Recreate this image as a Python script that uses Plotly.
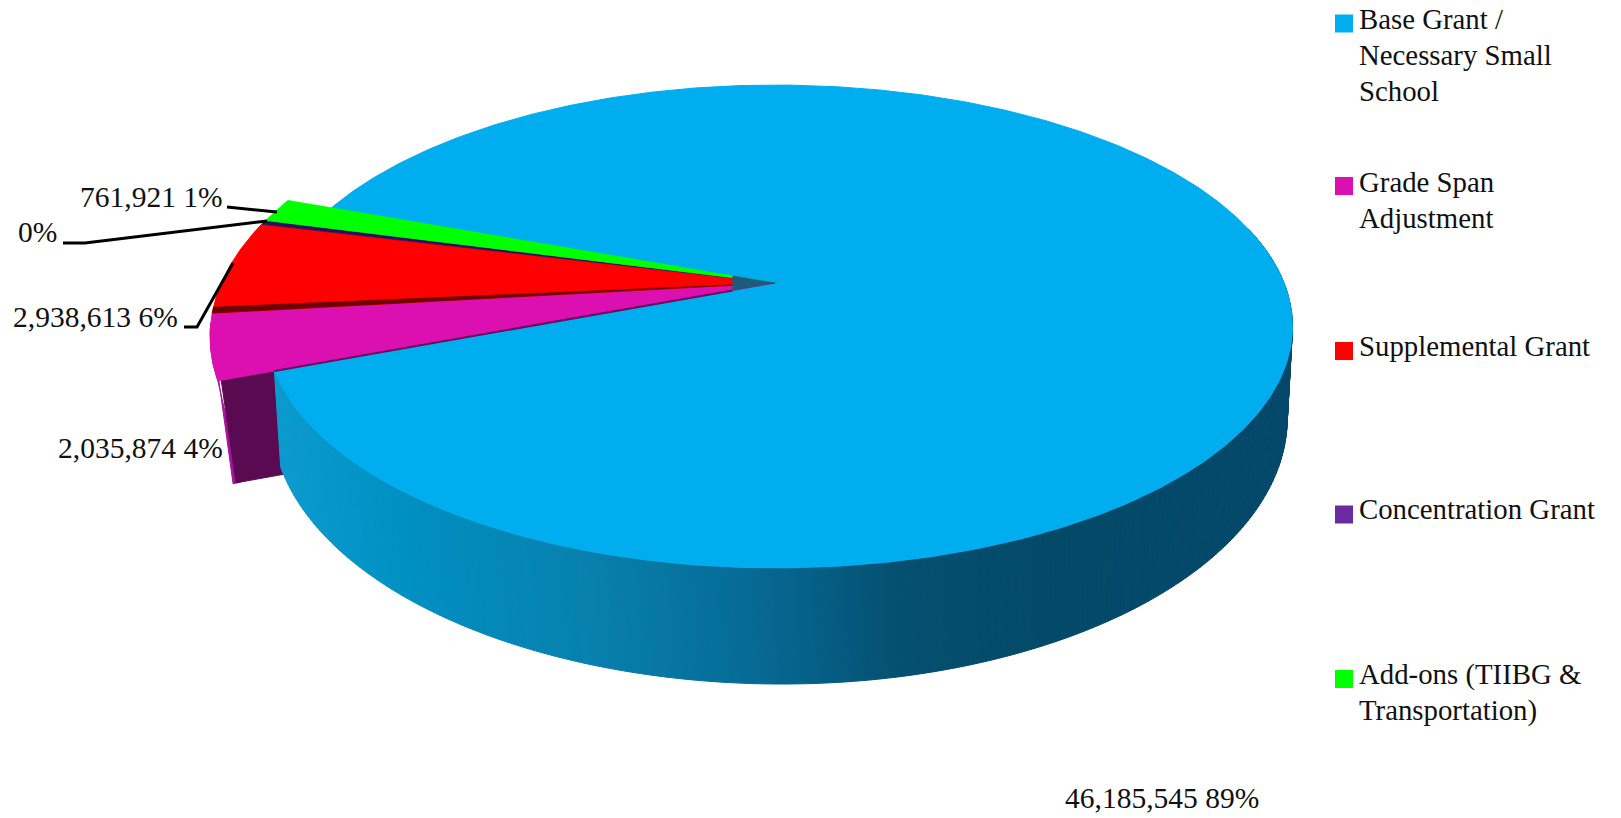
import numpy as np
import plotly.graph_objects as go

# ---- data ----
categories = ["Base Grant /<br>Necessary Small<br>School", "Grade Span<br>Adjustment",
              "Supplemental Grant", "Concentration Grant", "Add-ons (TIIBG &<br>Transportation)"]
values = [46185545, 2035874, 2938613, 140000, 761921]
data_labels = ["46,185,545 89%", "2,035,874 4%", "2,938,613 6%", "0%", "761,921 1%"]
face_colors = ["#00AEEF", "#DC10B0", "#FF0000", "#2B0F5E", "#00FF00"]
legend_colors = ["#00AEEF", "#DC10B0", "#FF0000", "#6A2AA0", "#00FF00"]

# ---- projection of the tilted disc into page pixels ----
P = 0.18
START = 200.0
R_OUT = 1.105


def top(theta, r=1.0):
    t = np.radians(theta)
    u, v = r * np.cos(t), r * np.sin(t)
    w = 1 - P * v
    return 775 + (509 if u > 0 else 501) * u / w, 283 + 233.6 * v / w


def low(theta, r=1.0):
    t = np.radians(theta)
    u, v = r * np.cos(t), r * np.sin(t)
    w = 1 - P * v
    return 782 + (497 if u > 0 else 501.7) * u / w, 370 + 257.5 * v / w


def poly(points, color, width=1.0):
    xs = [p[0] for p in points] + [points[0][0]]
    ys = [p[1] for p in points] + [points[0][1]]
    return go.Scatter(x=xs, y=ys, mode="lines", fill="toself", fillcolor=color,
                      line=dict(color=color, width=width), hoverinfo="skip", showlegend=False)


def arc(a, b, r=1.0, fn=top, n=None):
    n = n or max(3, int(abs(b - a) * 2) + 2)
    return [fn(t, r) for t in np.linspace(a, b, n)]


def mix(c1, c2, f):
    a = [int(c1[i:i + 2], 16) for i in (1, 3, 5)]
    b = [int(c2[i:i + 2], 16) for i in (1, 3, 5)]
    return "#%02x%02x%02x" % tuple(int(round(a[i] + (b[i] - a[i]) * f)) for i in range(3))


WALL_STOPS = [(270, "#0D9BD0"), (400, "#0090C2"), (590, "#0780AD"), (750, "#066A95"),
              (900, "#054F70"), (1050, "#034A68"), (1300, "#04486A")]


def wall_color(x):
    for (x0, c0), (x1, c1) in zip(WALL_STOPS, WALL_STOPS[1:]):
        if x <= x1:
            return mix(c0, c1, max(0.0, (x - x0) / (x1 - x0)))
    return WALL_STOPS[-1][1]


total = sum(values)
sweeps = [v / total * 360 for v in values]
edges = [START]
for s in sweeps:
    edges.append(edges[-1] + s)
blue_a, blue_b = edges[0], edges[1]
mag_a, mag_b = edges[1] - 360, edges[2] - 360
red_a, red_b = edges[2] - 360, edges[3] - 360
con_a, con_b = edges[3] - 360, edges[4] - 360
grn_a, grn_b = edges[4] - 360, edges[5] - 360

fig = go.Figure()

# magenta outer wall and cut face
tc = top(mag_a, R_OUT)
lc = low(mag_a, R_OUT)
lc = (lc[0] + 9, lc[1] + 6)
fig.add_trace(poly(arc(mag_a, mag_b - 2, R_OUT) + [lc, (lc[0] + 8, lc[1] - 2)], "#A5129B"))
fig.add_trace(poly([(tc[0] + 3, tc[1] - 3), (lc[0] + 3, lc[1] - 1), (lc[0] + 70, lc[1] - 13),
                    (tc[0] + 70, tc[1] - 14)], "#5A0A50"))

# blue wall, as narrow shaded bands
wall_edges = np.arange(blue_b - 360, -14.0, -0.75)
for a, b in zip(wall_edges, wall_edges[1:]):
    quad = [top(a), top(b), low(b), low(a)]
    fig.add_trace(poly(quad, wall_color((top(a)[0] + top(b)[0]) / 2)))

# top faces
fig.add_trace(poly([top(0, 0)] + arc(blue_a, blue_b, n=500), face_colors[0]))
fig.add_trace(poly([top(0, 0)] + arc(mag_a, mag_b, R_OUT), face_colors[1]))
fig.add_trace(poly([top(0, 0)] + arc(red_a, red_b, R_OUT), face_colors[2]))
fig.add_trace(poly([top(0, 0)] + arc(red_a, red_a + 1.3, R_OUT), "#6E0000", 0.5))
fig.add_trace(poly([top(0, 0)] + arc(con_a, con_b, R_OUT), face_colors[3], 0.5))
fig.add_trace(poly([top(0, 0)] + arc(grn_a, grn_b, R_OUT), face_colors[4], 0.5))

# dark seam and hub notch
seam = [top(mag_a, 0.09), top(mag_a, 1.0)]
fig.add_trace(go.Scatter(x=[p[0] for p in seam], y=[p[1] for p in seam], mode="lines",
                         line=dict(color="#6B0A5E", width=2), hoverinfo="skip", showlegend=False))
fig.add_trace(poly([top(0, 0), top(mag_a, 0.09), top(grn_b, 0.09)], "#1F5A7E", 0.5))

# legend keys
LEG_Y = [23.5, 186, 351, 514.5, 679]
fig.add_trace(go.Scatter(x=[1344] * 5, y=LEG_Y, mode="markers",
                         marker=dict(symbol="square", size=18, color=legend_colors),
                         hoverinfo="skip", showlegend=False))

FONT = "Liberation Serif"
LEG_FIRST = [19, 182, 346, 509, 674]
annotations = []
for name, y0 in zip(categories, LEG_FIRST):
    for i, line in enumerate(name.split("<br>")):
        annotations.append(dict(x=1357, y=y0 + 36 * i, text=line, showarrow=False, xanchor="left",
                                yanchor="middle", align="left",
                                font=dict(family=FONT, size=28.8, color="#111111")))
LAB_POS = [(1261, 798), (225, 448), (180, 317), (59, 232), (225, 197)]
for text, (x, y) in zip(data_labels, LAB_POS):
    annotations.append(dict(x=x, y=y, text=text, showarrow=False, xanchor="right", yanchor="middle",
                            font=dict(family=FONT, size=29.5, color="#111111")))

# leader lines
leaders = [[(227, 207), (277, 212)],
           [(63, 243), (85, 243), (267, 221)],
           [(184, 327), (197, 327), (233, 263)]]
for pts in leaders:
    fig.add_trace(go.Scatter(x=[p[0] for p in pts], y=[p[1] for p in pts], mode="lines",
                             line=dict(color="#000000", width=3), hoverinfo="skip", showlegend=False))

fig.update_layout(width=1621, height=818, margin=dict(l=0, r=0, t=0, b=0),
                  paper_bgcolor="white", plot_bgcolor="white", showlegend=False,
                  xaxis=dict(range=[0, 1621], visible=False, fixedrange=True),
                  yaxis=dict(range=[818, 0], visible=False, fixedrange=True),
                  annotations=annotations)
fig.write_html("out.html", post_script="document.body.style.margin='0';document.body.style.overflow='hidden';",
               config={"displayModeBar": False})
